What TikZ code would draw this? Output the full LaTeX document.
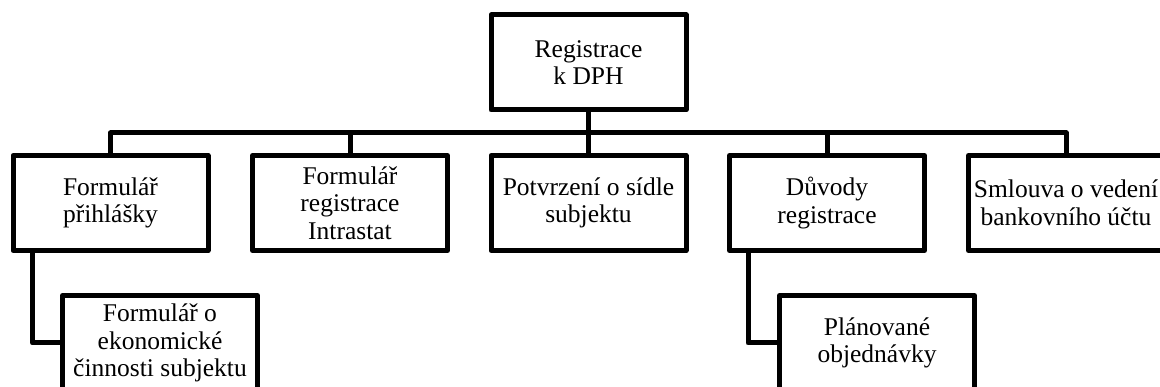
\documentclass[tikz,border=0pt]{standalone}
\usepackage{fontspec}
\setmainfont{Liberation Serif}
\begin{document}
\begin{tikzpicture}[x=1pt,y=-1pt,
  box/.style={draw=black, line width=5pt, line join=round, fill=white,
    minimum width=195pt, minimum height=95pt, inner sep=0pt, align=center,
    font=\fontsize{25.5}{27.5}\selectfont},
  link/.style={draw=black, line width=5pt, line join=round}]
\useasboundingbox (0,0) rectangle (1160,387);
\node[box] (top) at (588.5,62.5) {Registrace\\k DPH};
\node[box] (b1) at (110.5,203) {Formulář\\přihlášky};
\node[box] (b2) at (350,203) {Formulář\\registrace\\Intrastat};
\node[box] (b3) at (588.5,203) {Potvrzení o sídle\\subjektu};
\node[box] (b4) at (827,203) {Důvody\\registrace};
\node[box] (b5) at (1066,203) {Smlouva o vedení\\bankovního účtu};
\node[box] (c1) at (160,343) {Formulář o\\ekonomické\\činnosti subjektu};
\node[box] (c4) at (877,343) {Plánované\\objednávky};
\foreach \b in {b1,b2,b3,b4,b5}
  \draw[link] (top.south) -- ++(0,20.5) -| (\b.north);
\draw[link] ([xshift=22pt]b1.south west) |- (c1.west);
\draw[link] ([xshift=21pt]b4.south west) |- (c4.west);
\end{tikzpicture}
\end{document}
